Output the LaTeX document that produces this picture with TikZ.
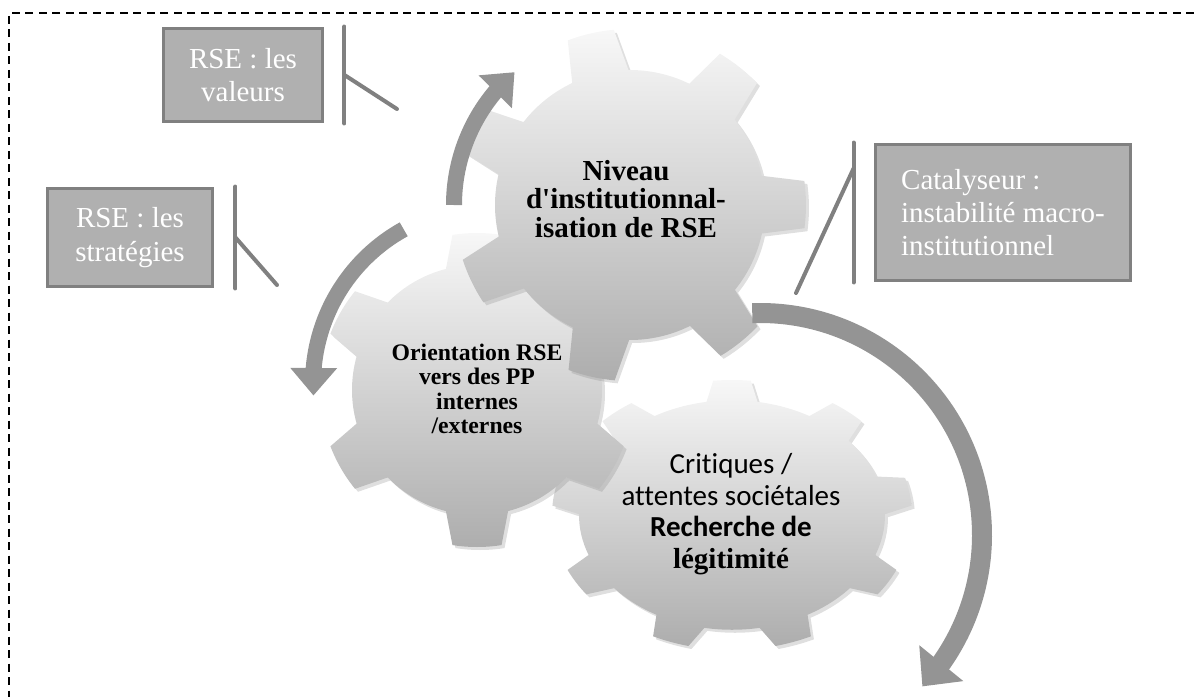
\documentclass[tikz,border=0pt]{standalone}
\usepackage{fontspec}
\setmainfont{Liberation Serif}
\newfontfamily\calibri[Ligatures=NoCommon]{Carlito}
\usepackage{tikz}
\usetikzlibrary{positioning,shadows,arrows.meta,bending}

\tikzset {
    gear face/.style={
        top color=black!3,
        bottom color=black!32,
        draw=none,
        drop shadow={opacity=0.25, shadow xshift=0.06cm, shadow yshift=-0.06cm},
    },
    gear text/.style={
        align=center,
        inner sep=0pt,
    },
    callout box/.style={
        fill=black!31,
        draw=black!50,
        line width=0.06cm,
        rectangle, % Set the shape as a rectangle
        inner sep=0pt,
        text=white,
        font=\fontsize{16.5}{19}\selectfont,
        align=center,
    },
    callout line/.style={
        draw=black!50,
        line width=0.08cm,
        line cap=round,
    },
    flow arrow/.style={
        draw=black!42,
        line width=0.32cm,
    },
    frame line/.style={
        draw=black,
        line width=0.04cm,
        dash pattern=on 0.16cm off 0.11cm,
    },
}

% center, teeth, inner radius, outer radius, first tooth angle, yscale
\newcommand{\drawgear}[6]{%
  \pgfmathsetmacro{\gstep}{360/#2}
  \pgfmathsetmacro{\gbase}{0.24*\gstep}
  \pgfmathsetmacro{\gtip}{0.15*\gstep}
  \begin{scope}[shift={#1}, yscale=#6]
    \path[gear face] ({#5-\gstep/2}:#3)
      \foreach \k [evaluate=\k as \gang using #5+(\k-1)*\gstep] in {1,...,#2} {
        arc[start angle=\gang-\gstep/2, end angle=\gang-\gbase, radius=#3]
        -- ({\gang-\gtip}:#4)
        arc[start angle=\gang-\gtip, end angle=\gang+\gtip, radius=#4]
        -- ({\gang+\gbase}:#3)
        arc[start angle=\gang+\gbase, end angle=\gang+\gstep/2, radius=#3]
      } -- cycle;
  \end{scope}
}

\begin{document}
\begin{tikzpicture}[x=0.02cm, y=0.02cm]
\useasboundingbox (0,0) rectangle (1194,-697);

\coordinate (frameCorner) at (9,-13);
\coordinate (frameRight) at (1194,-13);
\coordinate (frameBottom) at (9,-697);
\draw[frame line] (frameRight) -- (frameCorner) -- (frameBottom);

\coordinate (gearNiveau) at (630,-205);
\coordinate (gearOrientation) at (477,-390);
\coordinate (gearCritiques) at (732,-515);
\coordinate (turnOrientation) at (490,-385);
\coordinate (turnCritiques) at (760,-535);

\drawgear{(gearCritiques)}{9}{153}{180}{90}{0.75}
\drawgear{(gearOrientation)}{6}{125}{157}{30}{1}
\drawgear{(gearNiveau)}{7}{135}{176}{103}{1}

\draw[flow arrow, -{Triangle[width=0.9cm, length=0.55cm]}] ([shift={(180:176)}]gearNiveau) arc[start angle=180, end angle=131, radius=176];
\draw[flow arrow, -{Triangle[width=0.9cm, length=0.55cm]}] ([shift={(119:178)}]turnOrientation) arc[start angle=119, end angle=184, radius=176];
\draw[flow arrow, line width=0.4cm, -{Triangle[width=1.1cm, length=0.6cm]}] ([shift={(92:222)}]turnCritiques) arc[start angle=92, end angle=-43, radius=222];

\node[gear text, font=\rmfamily\bfseries\fontsize{16.5}{16}\selectfont] (niveau) at (626,-199) {Niveau\\d\textquotesingle institutionnal-\\isation de RSE};
\node[gear text, font=\rmfamily\bfseries\fontsize{13.5}{13.9}\selectfont] (orientation) at (477,-389) {Orientation RSE\\vers des PP\\internes\\/externes};
\node[gear text, font=\fontsize{16.5}{18}\selectfont] (critiques) at (731,-514) {{\calibri Critiques /}\\{\calibri attentes sociétales}\\{\calibri\bfseries Recherche de}\\{\rmfamily\bfseries légitimité}};

\node[callout box, minimum width=3.2cm, minimum height=1.88cm] (valeurs) at (243,-75) {RSE : les\\valeurs};
\node[callout box, minimum width=3.32cm, minimum height=1.98cm] (strategies) at (130,-237.5) {RSE : les\\stratégies};
\node[callout box, minimum width=5.12cm, minimum height=2.74cm, align=left] (catalyseur) at (1003,-212.5) {Catalyseur :\\instabilité macro-\\institutionnel};

\coordinate[right=0.4cm of valeurs.north east] (valeursBarTop);
\coordinate[right=0.4cm of valeurs.south east] (valeursBarBot);
\coordinate[right=0.4cm of valeurs.east] (valeursBarMid);
\coordinate (valeursTip) at (397,-109);
\coordinate[right=0.42cm of strategies.north east] (strategiesBarTop);
\coordinate[right=0.42cm of strategies.south east] (strategiesBarBot);
\coordinate[right=0.42cm of strategies.east] (strategiesBarMid);
\coordinate (strategiesTip) at (277,-285);
\coordinate[left=0.4cm of catalyseur.north west] (catalyseurBarTop);
\coordinate[left=0.4cm of catalyseur.south west] (catalyseurBarBot);
\coordinate[below=0.52cm of catalyseurBarTop] (catalyseurBarMid);
\coordinate (catalyseurTip) at (796,-293);

\draw[callout line] (valeursBarTop) -- (valeursBarBot);
\draw[callout line] (valeursBarMid) -- (valeursTip);
\draw[callout line] (strategiesBarTop) -- (strategiesBarBot);
\draw[callout line] (strategiesBarMid) -- (strategiesTip);
\draw[callout line] (catalyseurBarTop) -- (catalyseurBarBot);
\draw[callout line] (catalyseurBarMid) -- (catalyseurTip);
\end{tikzpicture}
\end{document}
